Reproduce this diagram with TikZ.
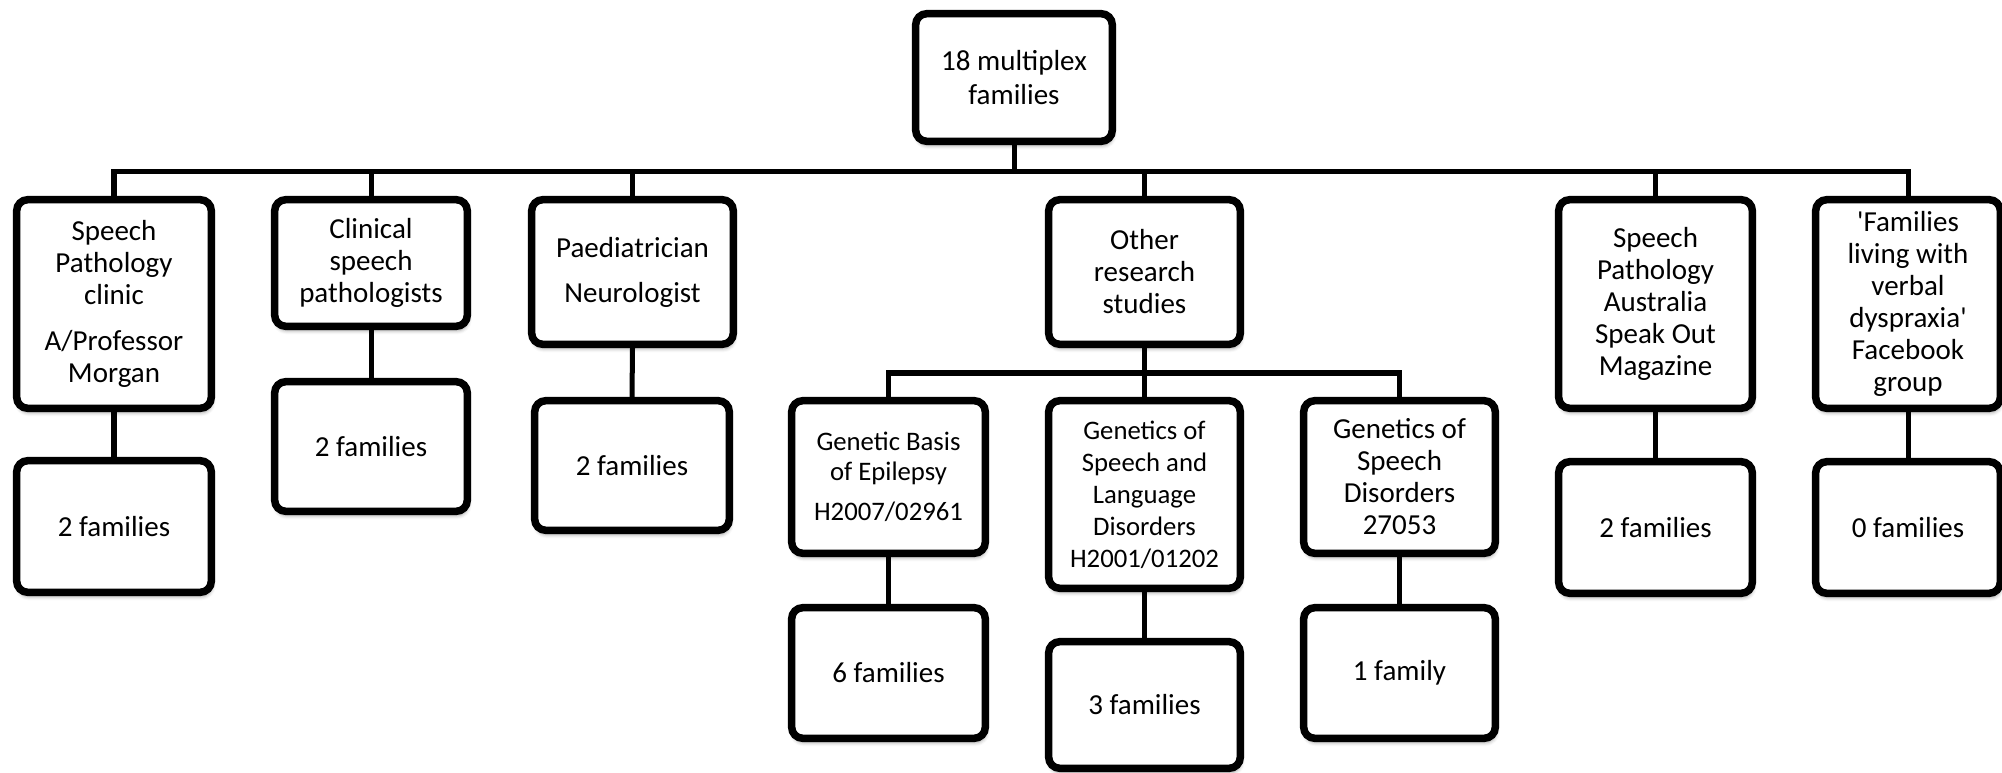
\documentclass[tikz,border=0pt]{standalone}
\usepackage{fontspec}
\setmainfont{Carlito}
\usetikzlibrary{shadows.blur}

\tikzset{
  box/.style={draw=black, line width=0.075cm, rounded corners=0.11cm, fill=white,
    align=center, inner sep=0pt,
    blur shadow={shadow xshift=0.01cm, shadow yshift=-0.045cm,
                 shadow blur radius=0.035cm, shadow opacity=35},
    font=\fontsize{8.25pt}{9.1pt}\selectfont},
  smalltext/.style={font=\fontsize{7.6pt}{8.3pt}\selectfont},
  smallwide/.style={font=\fontsize{7.6pt}{9.1pt}\selectfont},
  toptext/.style={font=\fontsize{8.25pt}{9.7pt}\selectfont},
  link/.style={draw=black, line width=0.05cm, line join=miter},
}

\begin{document}
\begin{tikzpicture}[x=0.01cm, y=-0.01cm]
  \path[use as bounding box, clip] (0,0) rectangle (2002,773);

  % root
  \node[box, toptext, minimum width=1.965cm, minimum height=1.275cm] (top) at (1014,77.5)
    {18 multiplex\\families};

  % recruitment sources
  \node[box, minimum width=1.945cm, minimum height=2.085cm] (spc) at (114,304)
    {Speech\\Pathology\\clinic\\[0.145cm]A/Professor\\Morgan};
  \node[box, minimum width=1.925cm, minimum height=1.265cm] (csp) at (371,263)
    {Clinical\\speech\\pathologists};
  \node[box, minimum width=2.015cm, minimum height=1.445cm] (ped) at (632.5,272)
    {Paediatrician\\[0.13cm]Neurologist};
  \node[box, minimum width=1.915cm, minimum height=1.445cm] (ors) at (1144.5,272)
    {Other\\research\\studies};
  \node[box, minimum width=1.935cm, minimum height=2.085cm] (spa) at (1655.5,304)
    {Speech\\Pathology\\Australia\\Speak Out\\Magazine};
  \node[box, minimum width=1.845cm, minimum height=2.085cm] (fb) at (1908,304)
    {\textquotesingle Families\\living with\\verbal\\dyspraxia\textquotesingle\\Facebook\\group};

  % research studies
  \node[box, smalltext, minimum width=1.935cm, minimum height=1.525cm] (gbe) at (888.5,477)
    {Genetic Basis\\of Epilepsy\\[0.11cm]H2007/02961};
  \node[box, smallwide, minimum width=1.915cm, minimum height=1.875cm] (gsl) at (1144.5,494.5)
    {Genetics of\\Speech and\\Language\\Disorders\\H2001/01202};
  \node[box, minimum width=1.915cm, minimum height=1.525cm] (gsd) at (1399.5,477)
    {Genetics of\\Speech\\Disorders\\27053};

  % family counts
  \node[box, minimum width=1.945cm, minimum height=1.315cm] (spc2) at (114,526.5) {2 families};
  \node[box, minimum width=1.925cm, minimum height=1.295cm] (csp2) at (371,446.5) {2 families};
  \node[box, minimum width=1.945cm, minimum height=1.295cm] (ped2) at (632,465.5) {2 families};
  \node[box, minimum width=1.935cm, minimum height=1.305cm] (gbe2) at (888.5,673) {6 families};
  \node[box, minimum width=1.915cm, minimum height=1.265cm] (gsl2) at (1144.5,705) {3 families};
  \node[box, minimum width=1.915cm, minimum height=1.305cm] (gsd2) at (1399.5,673) {1 family};
  \node[box, minimum width=1.935cm, minimum height=1.315cm] (spa2) at (1655.5,527.5) {2 families};
  \node[box, minimum width=1.845cm, minimum height=1.315cm] (fb2) at (1908,527.5) {0 families};

  % main bus
  \coordinate (bus) at (1014,172);
  \coordinate (sub) at (1144.5,373);
  \draw[link] (spc.north) -- (spc.north |- bus) -- (fb.north |- bus) -- (fb.north);
  \draw[link] (top.south) -- (top.south |- bus);
  \draw[link] (csp.north) -- (csp.north |- bus);
  \draw[link] (ped.north) -- (ped.north |- bus);
  \draw[link] (ors.north) -- (ors.north |- bus);
  \draw[link] (spa.north) -- (spa.north |- bus);

  % research sub bus
  \draw[link] (gbe.north) -- (gbe.north |- sub) -- (gsd.north |- sub) -- (gsd.north);
  \draw[link] (ors.south) -- (gsl.north);

  % count links
  \draw[link] (spc.south) -- (spc2.north);
  \draw[link] (csp.south) -- (csp2.north);
  \draw[link] (ped.south) -- (ped2.north);
  \draw[link] (gbe.south) -- (gbe2.north);
  \draw[link] (gsl.south) -- (gsl2.north);
  \draw[link] (gsd.south) -- (gsd2.north);
  \draw[link] (spa.south) -- (spa2.north);
  \draw[link] (fb.south) -- (fb2.north);
\end{tikzpicture}
\end{document}
